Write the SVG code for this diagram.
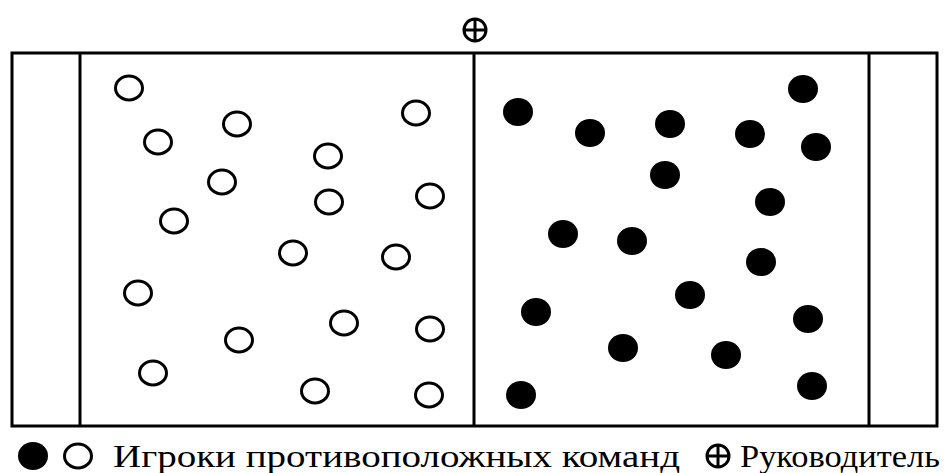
<svg xmlns="http://www.w3.org/2000/svg" width="950" height="473" viewBox="0 0 950 473">
<style>
.line{stroke:#000;stroke-width:3;fill:none}
.open{fill:#fff;stroke:#000;stroke-width:3}
.full{fill:#000}
.lbl{font-family:"Liberation Serif","Times New Roman",serif;font-size:32px;fill:#000}
</style>
<defs>
<ellipse id="o" class="open" rx="13.5" ry="12"/>
<ellipse id="f" class="full" rx="15" ry="14"/>
<g id="lead"><circle r="11" class="line" stroke-width="2.6"/><line x1="-11" y1="0" x2="11" y2="0" class="line" stroke-width="2.4"/><line x1="0" y1="-11" x2="0" y2="11" class="line" stroke-width="2.4"/></g>
</defs>
<rect width="950" height="473" fill="#fff"/>
<g id="field">
<rect x="12" y="53" width="925" height="373" class="line"/>
<line x1="80" y1="53" x2="80" y2="426" class="line"/>
<line x1="869" y1="53" x2="869" y2="426" class="line"/>
<line x1="474" y1="53" x2="474" y2="426" class="line"/>
</g>
<g id="leader"><use href="#lead" x="475" y="30"/></g>
<g id="team-white">
<use href="#o" x="129" y="88"/>
<use href="#o" x="158" y="142"/>
<use href="#o" x="237" y="124"/>
<use href="#o" x="222" y="182"/>
<use href="#o" x="174" y="221"/>
<use href="#o" x="416" y="113"/>
<use href="#o" x="328" y="156"/>
<use href="#o" x="329" y="202"/>
<use href="#o" x="430" y="196"/>
<use href="#o" x="293" y="253"/>
<use href="#o" x="396" y="257"/>
<use href="#o" x="138" y="293"/>
<use href="#o" x="239" y="340"/>
<use href="#o" x="344" y="323"/>
<use href="#o" x="430" y="329"/>
<use href="#o" x="153" y="373"/>
<use href="#o" x="315" y="391"/>
<use href="#o" x="429" y="395"/>
</g>
<g id="team-black">
<use href="#f" x="518" y="112"/>
<use href="#f" x="803" y="89"/>
<use href="#f" x="590" y="133"/>
<use href="#f" x="670" y="124"/>
<use href="#f" x="750" y="134"/>
<use href="#f" x="816" y="147"/>
<use href="#f" x="665" y="175"/>
<use href="#f" x="770" y="202"/>
<use href="#f" x="563" y="234"/>
<use href="#f" x="632" y="241"/>
<use href="#f" x="761" y="262"/>
<use href="#f" x="690" y="295"/>
<use href="#f" x="536" y="312"/>
<use href="#f" x="808" y="319"/>
<use href="#f" x="623" y="348"/>
<use href="#f" x="726" y="355"/>
<use href="#f" x="521" y="395"/>
<use href="#f" x="812" y="386"/>
</g>
<g id="legend">
<ellipse cx="33" cy="456" rx="15" ry="14" class="full"/>
<ellipse cx="78" cy="456" rx="13.5" ry="12" class="open"/>
<text x="113" y="467" class="lbl" textLength="567" lengthAdjust="spacingAndGlyphs">Игроки противоположных команд</text>
<use href="#lead" x="718" y="456"/>
<text x="740" y="467" class="lbl" textLength="200" lengthAdjust="spacingAndGlyphs">Руководитель</text>
</g>
</svg>
